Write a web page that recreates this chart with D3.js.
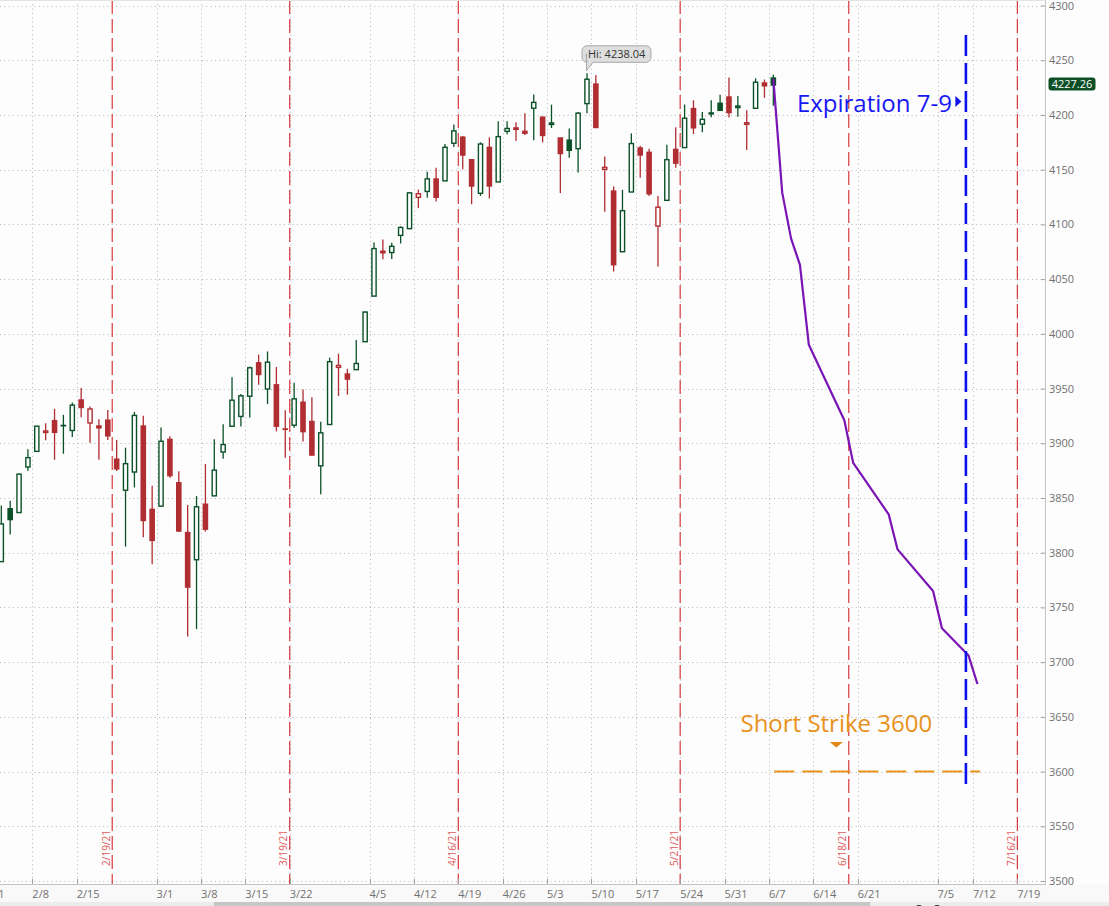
<!DOCTYPE html>
<html>
<head>
<meta charset="utf-8">
<script src="https://cdn.jsdelivr.net/npm/d3@7/dist/d3.min.js"></script>
<style>
body{margin:0;background:#fdfdfd;overflow:hidden;}
text{font-family:"Open Sans",sans-serif;}
</style>
</head>
<body>
<svg id="chart" width="1109" height="906"></svg>
<script>
// daily SPX bars, 2/1 .. 6/8 (first one sits off the left edge)
var dates = ["2/1","2/2","2/3","2/4","2/5","2/8","2/9","2/10","2/11","2/12","2/16","2/17","2/18","2/19","2/22","2/23","2/24","2/25","2/26",
  "3/1","3/2","3/3","3/4","3/5","3/8","3/9","3/10","3/11","3/12","3/15","3/16","3/17","3/18","3/19","3/22","3/23","3/24","3/25","3/26",
  "3/29","3/30","3/31","4/1","4/5","4/6","4/7","4/8","4/9","4/12","4/13","4/14","4/15","4/16","4/19","4/20","4/21","4/22","4/23",
  "4/26","4/27","4/28","4/29","4/30","5/3","5/4","5/5","5/6","5/7","5/10","5/11","5/12","5/13","5/14","5/17","5/18","5/19","5/20","5/21",
  "5/24","5/25","5/26","5/27","5/28","6/1","6/2","6/3","6/4","6/7","6/8"];
var opens = [3731.17,3791.84,3840.27,3836.66,3878.30,3892.59,3910.49,3920.78,3916.40,3911.65,3939.61,3918.50,3915.86,3921.16,3885.55,3857.07,3873.71,3915.80,3839.66,
  3842.51,3903.64,3863.99,3818.53,3793.58,3844.39,3851.93,3891.99,3915.54,3924.52,3942.96,3973.59,3949.57,3953.50,3913.14,3916.48,3937.60,3919.93,3879.34,3917.12,
  3969.31,3963.34,3967.25,3992.78,4034.44,4075.57,4074.29,4089.95,4096.11,4124.71,4130.10,4141.58,4139.76,4174.14,4179.80,4159.18,4128.42,4170.46,4138.78,
  4185.03,4188.25,4185.14,4206.14,4198.10,4191.98,4179.04,4177.06,4169.14,4210.34,4228.29,4150.34,4130.55,4074.99,4129.58,4169.92,4165.94,4098.45,4121.97,4168.61,
  4170.16,4205.94,4191.59,4201.94,4210.77,4216.52,4206.82,4191.43,4206.05,4229.34,4233.81];
var highs = [3784.32,3843.09,3847.51,3872.42,3894.56,3915.77,3918.35,3931.50,3925.99,3937.23,3950.43,3933.61,3921.98,3930.41,3902.92,3895.98,3928.65,3925.02,3861.08,
  3914.50,3906.41,3874.47,3843.67,3851.69,3881.06,3903.76,3917.35,3960.27,3944.99,3970.08,3981.04,3983.87,3969.62,3930.12,3955.31,3949.13,3942.08,3919.54,3978.19,
  3981.83,3968.01,3994.41,4020.63,4083.42,4086.23,4083.13,4098.19,4129.48,4131.76,4148.00,4151.69,4173.49,4191.31,4180.81,4159.18,4175.02,4179.57,4194.17,
  4194.19,4193.35,4201.53,4218.78,4198.10,4209.39,4179.04,4187.72,4202.70,4238.04,4236.39,4162.04,4134.73,4131.58,4183.13,4171.92,4169.15,4125.99,4172.80,4188.72,
  4209.52,4213.42,4202.61,4213.38,4218.36,4234.12,4217.37,4204.39,4233.45,4232.34,4236.74];
var lows = [3725.62,3791.84,3816.68,3836.66,3874.93,3892.59,3902.64,3884.94,3890.39,3905.78,3923.85,3900.43,3885.03,3903.07,3874.71,3805.59,3859.60,3814.04,3789.54,
  3842.51,3868.57,3818.86,3723.34,3730.19,3819.25,3851.93,3885.73,3915.54,3915.21,3923.54,3953.44,3935.74,3910.86,3886.75,3914.16,3901.57,3888.56,3853.50,3917.12,
  3943.25,3944.35,3966.98,3992.78,4034.44,4068.14,4068.31,4082.54,4095.51,4114.82,4124.43,4120.87,4139.76,4170.75,4150.47,4118.38,4126.01,4123.69,4138.78,
  4182.36,4176.22,4181.78,4176.81,4174.85,4188.03,4128.59,4160.94,4147.33,4201.64,4188.13,4111.53,4056.88,4074.99,4129.58,4142.69,4125.99,4061.41,4121.97,4151.72,
  4170.16,4182.52,4184.11,4197.78,4203.57,4197.59,4198.27,4167.93,4206.05,4215.66,4208.41];
var closes = [3773.86,3826.31,3830.17,3871.74,3886.83,3915.59,3911.23,3909.88,3916.38,3934.83,3932.59,3931.33,3913.97,3906.71,3876.50,3881.37,3925.43,3829.34,3811.15,
  3901.82,3870.29,3819.72,3768.47,3841.94,3821.35,3875.44,3898.81,3939.34,3943.34,3968.94,3962.71,3974.12,3915.46,3913.10,3940.59,3910.52,3889.14,3909.52,3974.54,
  3971.09,3958.55,3972.89,4019.87,4077.91,4073.94,4079.95,4097.17,4128.80,4127.99,4141.59,4124.66,4170.42,4185.47,4163.26,4134.94,4173.42,4134.98,4180.17,
  4187.62,4186.72,4183.18,4211.47,4181.17,4192.66,4164.66,4167.59,4201.62,4232.60,4188.43,4152.10,4063.04,4112.50,4173.85,4163.29,4127.83,4115.68,4159.12,4155.86,
  4197.05,4188.13,4195.99,4200.88,4204.11,4202.04,4208.12,4192.85,4229.89,4226.52,4227.26];

// bottom axis labels and the trading-day slot they sit at
var tickLabels = ["2/1","2/8","2/15","3/1","3/8","3/15","3/22","4/5","4/12","4/19","4/26","5/3","5/10","5/17","5/24","5/31","6/7","6/14","6/21","7/5","7/12","7/19"];
var tickSlots = [-1,4,9,18,23,28,33,42,47,52,57,62,67,72,77,82,87,92,97,106,110,115];

// monthly expirations (red) 
var expiryLabels = ["2/19/21","3/19/21","4/16/21","5/21/21","6/18/21","7/16/21"];
var expirySlots = [12.5,32.5,51.5,76.5,95.5,114.5];

// projected path (purple)
var projSlots = [87,88,89,90,91,95,96,100,101,105,106,109,110];
var projValues = [4233,4129,4087,4063,3990,3921,3882,3835,3803,3765,3731,3706,3680];

var priceTicks = d3.range(3500, 4301, 50);
var shortStrike = 3600;
var expirationSlot = 108.7;
var hiIndex = 67;
var lastPrice = 4227.26;

var W = 1109, H = 906, plotRight = 1045, axisY = 884;
var green = "#0b5128", red = "#b02d32", bg = "#fdfdfd";

var svg = d3.select("#chart");
svg.append("rect").attr("width", W).attr("height", H).attr("fill", bg);

var x = d3.scaleLinear().domain([0, 100]).range([1.3, 1.3 + 100 * 8.874]);
var y = d3.scaleLinear().domain([3500, 4300]).range([881, 5.5]);
var half = (x(1) - x(0)) / 2;

svg.append("clipPath").attr("id", "clip")
  .append("rect").attr("x", 0).attr("y", 0).attr("width", plotRight).attr("height", axisY);

var plot = svg.append("g").attr("clip-path", "url(#clip)");

// dotted grid
plot.selectAll(".hgrid").data(priceTicks).enter().append("line")
  .attr("x1", 0).attr("x2", plotRight)
  .attr("y1", function(d){ return Math.round(y(d)) + 0.5; })
  .attr("y2", function(d){ return Math.round(y(d)) + 0.5; })
  .attr("stroke", "#b5b5b5").attr("stroke-width", 1).attr("stroke-dasharray", "1,3.3");
plot.selectAll(".vgrid").data(tickSlots).enter().append("line")
  .attr("x1", function(d){ return Math.round(x(d) - half) + 0.5; })
  .attr("x2", function(d){ return Math.round(x(d) - half) + 0.5; })
  .attr("y1", 0).attr("y2", axisY)
  .attr("stroke", "#b5b5b5").attr("stroke-width", 1).attr("stroke-dasharray", "1,3.3");

// expiration lines
plot.selectAll(".exp").data(expirySlots).enter().append("line")
  .attr("x1", function(d){ return x(d); }).attr("x2", function(d){ return x(d); })
  .attr("y1", 0).attr("y2", axisY)
  .attr("stroke", "#d8383c").attr("stroke-width", 1.2).attr("stroke-dasharray", "14,5");
plot.selectAll(".explab").data(expiryLabels).enter().append("text")
  .attr("transform", function(d, i){ return "translate(" + (x(expirySlots[i]) - 2.5) + ",848) rotate(-90)"; })
  .attr("text-anchor", "middle")
  .attr("font-size", "10px").attr("fill", "#e05a5a")
  .text(function(d){ return d; });

// candles
var candles = plot.selectAll(".candle").data(dates).enter().append("g");
candles.each(function(d, i){
  var g = d3.select(this);
  var cx = x(i - 1);
  var o = opens[i], c = closes[i];
  var prev = i > 0 ? closes[i - 1] : o;
  var col = c >= prev ? green : red;
  var hollow = c > o;
  g.append("line")
    .attr("x1", cx).attr("x2", cx)
    .attr("y1", y(highs[i])).attr("y2", y(lows[i]))
    .attr("stroke", col).attr("stroke-width", 1.3);
  var top = y(Math.max(o, c)), bot = y(Math.min(o, c));
  if (hollow) {
    g.append("rect")
      .attr("x", cx - 2.1).attr("width", 4.2)
      .attr("y", top).attr("height", Math.max(bot - top, 1.5))
      .attr("fill", bg).attr("stroke", col).attr("stroke-width", 1.4);
  } else {
    g.append("rect")
      .attr("x", cx - 2.8).attr("width", 5.6)
      .attr("y", top - 0.6).attr("height", Math.max(bot - top, 0.6) + 1.2)
      .attr("fill", col);
  }
});

// projected path
plot.append("path")
  .datum(projSlots)
  .attr("d", d3.line().x(function(d){ return x(d); }).y(function(d, i){ return y(projValues[i]); }))
  .attr("fill", "none").attr("stroke", "#7a14b4").attr("stroke-width", 2.2).attr("stroke-linejoin", "round");

// short strike line + label
plot.append("line")
  .attr("x1", x(87.1)).attr("x2", x(110.3))
  .attr("y1", y(shortStrike)).attr("y2", y(shortStrike))
  .attr("stroke", "#e8921c").attr("stroke-width", 2).attr("stroke-dasharray", "20,8");
plot.append("text")
  .attr("x", x(94.1)).attr("y", y(3636))
  .attr("text-anchor", "middle").attr("font-size", "24px").attr("fill", "#e8921c")
  .text("Short Strike " + shortStrike);
plot.append("path")
  .attr("d", "M" + (x(94.1) - 6.5) + "," + y(3627) + "h13l-6.5,5.5z")
  .attr("fill", "#e0891a");

// expiration 7-9
plot.append("line")
  .attr("x1", x(expirationSlot)).attr("x2", x(expirationSlot))
  .attr("y1", y(4273)).attr("y2", y(3588))
  .attr("stroke", "#0a12ee").attr("stroke-width", 2.6).attr("stroke-dasharray", "21,7");
plot.append("text")
  .attr("x", x(expirationSlot) - 14).attr("y", y(4202.6))
  .attr("text-anchor", "end").attr("font-size", "24px").attr("fill", "#1818f2")
  .text("Expiration 7-9");
plot.append("path")
  .attr("d", "M" + (x(expirationSlot) - 10.5) + "," + (y(4202.6) - 16) + "v11l6,-5.5z")
  .attr("fill", "#1010f0");

// high tooltip
var tx = x(hiIndex - 1), ty = y(highs[hiIndex]) - 2.5;
plot.append("path")
  .attr("d", "M" + (tx - 1) + "," + (ty - 17) + " H" + (tx - 0.5) + " V" + (ty - 0) +
    " L" + (tx + 6) + "," + (ty - 8.5) + " H" + (tx + 59) + " a5,5 0 0 0 5,-5 V" + (ty - 20) +
    " a5,5 0 0 0 -5,-5 H" + (tx) + " a5,5 0 0 0 -5,5 V" + (ty - 13.5) + " a5,5 0 0 0 5,5 z")
  .attr("fill", "#dedede").attr("stroke", "#a8a8a8").attr("stroke-width", 1);
plot.append("text")
  .attr("x", tx + 1).attr("y", ty - 12.5)
  .attr("font-size", "11px").attr("fill", "#333")
  .text("Hi: " + highs[hiIndex].toFixed(2));

// frame
svg.append("rect").attr("x", 0).attr("y", axisY + 0.5).attr("width", W).attr("height", H - axisY)
  .attr("fill", "#f9f9f9");
svg.append("line").attr("x1", 0).attr("x2", plotRight).attr("y1", axisY + 0.5).attr("y2", axisY + 0.5)
  .attr("stroke", "#c4c4c4");
svg.append("line").attr("x1", plotRight + 0.5).attr("x2", plotRight + 0.5).attr("y1", 0).attr("y2", axisY + 1)
  .attr("stroke", "#c4c4c4");
svg.append("line").attr("x1", 0).attr("x2", plotRight).attr("y1", 0.5).attr("y2", 0.5)
  .attr("stroke", "#e4e4e4");

// bottom axis
var xt = svg.append("g");
xt.selectAll("line").data(tickSlots).enter().append("line")
  .attr("x1", function(d){ return Math.round(x(d) - half) + 0.5; })
  .attr("x2", function(d){ return Math.round(x(d) - half) + 0.5; })
  .attr("y1", axisY - 5).attr("y2", axisY)
  .attr("stroke", "#a0a0a0");
xt.selectAll("text").data(tickLabels).enter().append("text")
  .attr("x", function(d, i){ return x(tickSlots[i]) - half; })
  .attr("y", 898)
  .attr("font-size", "11px").attr("fill", "#707070")
  .text(function(d){ return d; });

// scrollbar remains at the bottom
svg.append("rect").attr("x", 0).attr("y", 902).attr("width", W).attr("height", 4).attr("fill", "#ececec");
svg.append("rect").attr("x", 214).attr("y", 902).attr("width", 656).attr("height", 4).attr("fill", "#c6c6c6");
svg.selectAll(".dot").data([919, 937]).enter().append("circle")
  .attr("cx", function(d){ return d; }).attr("cy", 910).attr("r", 5).attr("fill", "#333");

// right price axis
var yAxis = d3.axisRight(y).tickValues(priceTicks).tickSize(-4).tickPadding(4).tickFormat(d3.format("d"));
var ya = svg.append("g").attr("transform", "translate(" + plotRight + ",0)").call(yAxis);
ya.select(".domain").remove();
ya.selectAll("line").attr("stroke", "#a0a0a0");
ya.selectAll("text").attr("font-size", "11px").attr("fill", "#707070").attr("font-family", "Open Sans, sans-serif");

// last price tag
svg.append("rect")
  .attr("x", plotRight + 3.5).attr("y", y(lastPrice) - 7.5).attr("width", 47).attr("height", 13).attr("rx", 3)
  .attr("fill", "#0c4f26");
svg.append("text")
  .attr("x", plotRight + 27).attr("y", y(lastPrice) + 3)
  .attr("text-anchor", "middle").attr("font-size", "11px").attr("fill", "#fff")
  .text(lastPrice.toFixed(2));
</script>
</body>
</html>
